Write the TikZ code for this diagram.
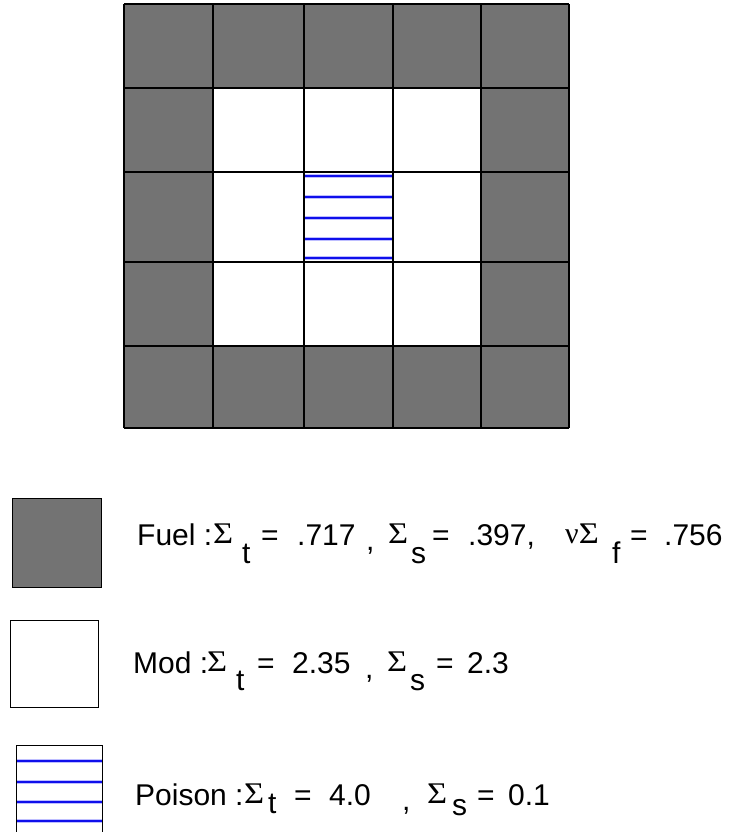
\documentclass[tikz,border=0pt]{standalone}
\usepackage{fontspec}
\usepackage{graphicx}
\setmainfont{Liberation Sans}
\newfontfamily\greekfont{Liberation Serif}
\definecolor{fuelgray}{RGB}{115,115,115}
\definecolor{poisonblue}{RGB}{15,15,235}
\definecolor{halo}{RGB}{190,190,255}
\tikzset{
  cellline/.style={draw=black, line width=1.1bp},
  fuelcell/.style={fill=fuelgray},
  bluestripe/.style={draw=poisonblue, line width=1.8bp},
  bluehalo/.style={draw=halo, line width=4bp},
  seg/.style={anchor=base west, inner sep=0pt, font=\fontsize{30bp}{32bp}\selectfont},
  greek/.style={anchor=base west, inner sep=0pt, font=\greekfont\fontsize{30bp}{32bp}\selectfont, yshift=2bp},
}
\newcommand{\wSig}{\scalebox{1.15}[1]{Σ}}
\begin{document}
\begin{tikzpicture}[x=1bp, y=-1bp]
\useasboundingbox (0,0) rectangle (730,832);
% grid
\fill[fuelgray] (124,4) rectangle (569,428);
\fill[white] (213,88) rectangle (481,346);
\foreach \x in {124,213,304,393,481,569} \draw[cellline] (\x,4) -- (\x,428);
\foreach \y in {4,88,172,262,346,428} \draw[cellline] (124,\y) -- (569,\y);
% poison cell stripes
\foreach \y in {176,197,218,239,258} {
  \draw[bluehalo] (305,\y) -- (392,\y);
  \draw[bluestripe] (305,\y) -- (392,\y);
}
\draw[cellline] (304,172) -- (304,262) (393,172) -- (393,262) (304,262) -- (393,262);
% legend boxes
\draw[fuelcell, draw=black, line width=1bp] (12,498) rectangle (101,587);
\draw[fill=white, draw=black, line width=1bp] (10,620) rectangle (98,707);
\fill[white] (16,745) rectangle (102,832);
\foreach \y in {761,782,802,821} {
  \draw[bluehalo] (16,\y) -- (102,\y);
  \draw[bluestripe] (16,\y) -- (102,\y);
}
\draw[black, line width=1bp] (16,840) -- (16,745) -- (102,745) -- (102,840);
% Fuel legend (baseline 545)
\node[seg] (f1) at (137,545) {Fuel :};
\node[greek] (f2) at (213,545) {\wSig};
\node[seg] (f3) at (242,563) {t};
\node[seg] (f4) at (261,545) {=};
\node[seg] (f5) at (297,545) {.717};
\node[seg] (f6) at (366,550) {,};
\node[greek] (f7) at (388,545) {\wSig};
\node[seg] (f8) at (411,563) {s};
\node[seg] (f9) at (432,545) {=};
\node[seg] (f10) at (468,545) {.397,};
\node[greek] (f11) at (565,545) {ν\wSig};
\node[seg] (f12) at (612,563) {f};
\node[seg] (f13) at (630,545) {=};
\node[seg] (f14) at (664,545) {.756};
% Mod legend (baseline 673)
\node[seg] (m1) at (133,673) {Mod :};
\node[greek] (m2) at (207,673) {\wSig};
\node[seg] (m3) at (236,690) {t};
\node[seg] (m4) at (257,673) {=};
\node[seg] (m5) at (292,673) {2.35};
\node[seg] (m6) at (365,678) {,};
\node[greek] (m7) at (387,673) {\wSig};
\node[seg] (m8) at (410,690) {s};
\node[seg] (m9) at (436,673) {=};
\node[seg] (m10) at (467,673) {2.3};
% Poison legend (baseline 805)
\node[seg] (p1) at (135,805) {Poison :};
\node[greek] (p2) at (244,805) {\wSig};
\node[seg] (p3) at (268,813) {t};
\node[seg] (p4) at (294,805) {=};
\node[seg] (p5) at (329,805) {4.0};
\node[seg] (p6) at (402,810) {,};
\node[greek] (p7) at (427,805) {\wSig};
\node[seg] (p8) at (452,815) {s};
\node[seg] (p9) at (477,805) {=};
\node[seg] (p10) at (508,805) {0.1};
\end{tikzpicture}
\end{document}
